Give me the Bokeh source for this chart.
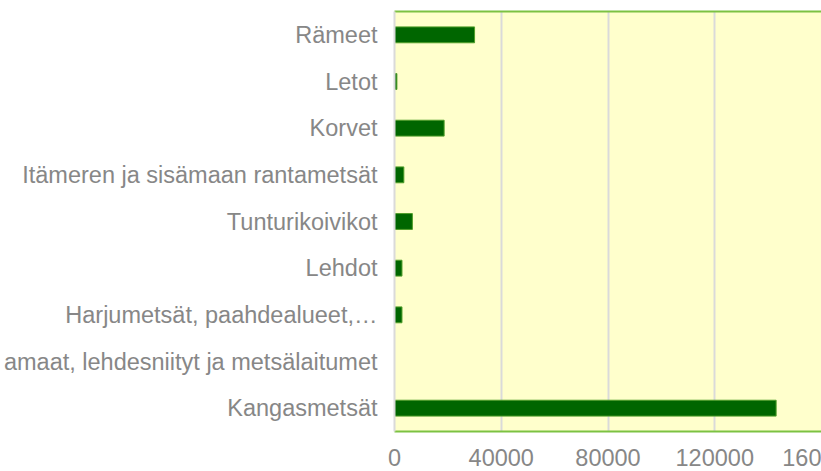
from bokeh.plotting import figure
from bokeh.models import (FactorRange, Range1d, FixedTicker, NumeralTickFormatter,
                          LinearAxis, ColumnDataSource)
from bokeh.embed import file_html
from bokeh.resources import INLINE

# Data (top to bottom as shown)
categories = [
    "Rämeet",
    "Letot",
    "Korvet",
    "Itämeren ja sisämaan rantametsät",
    "Tunturikoivikot",
    "Lehdot",
    "Harjumetsät, paahdealueet,…",
    "amaat, lehdesniityt ja metsälaitumet",
    "Kangasmetsät",
]
values = [30000, 900, 18600, 3500, 6700, 2800, 2800, 0, 143000]
x_ticks = [0, 40000, 80000, 120000, 160000]
x_tick_labels = {160000: "160"}  # right-most label is cut at the window edge

FONT = "Liberation Sans"
FS = "23.5px"
TEXT_GRAY = "#878787"
BAR_GREEN = "#006600"
BAR_EDGE = "#4f9e2a"
BORDER_GREEN = "#7cc242"
GRID_GRAY = "#dadada"

source = ColumnDataSource(dict(cat=categories, val=values))

p = figure(width=821, height=471,
           y_range=FactorRange(factors=categories[::-1]),
           x_range=Range1d(0, 160000),
           output_backend="svg", toolbar_location=None,
           min_border_left=0, min_border_right=0,
           min_border_top=11, min_border_bottom=40)

p.hbar(y="cat", right="val", left=0, height=0.34, source=source,
       fill_color=BAR_GREEN, line_color=BAR_EDGE, line_width=1)

p.background_fill_color = "#ffffcc"
p.border_fill_color = "white"
p.outline_line_color = None

# grid
p.ygrid.grid_line_color = None
p.xgrid.ticker = FixedTicker(ticks=x_ticks)
p.xgrid.grid_line_color = GRID_GRAY
p.xgrid.grid_line_width = 2

# bottom axis
xa = p.xaxis[0]
xa.ticker = FixedTicker(ticks=x_ticks)
xa.formatter = NumeralTickFormatter(format="0")
xa.major_label_overrides = x_tick_labels
xa.axis_line_color = BORDER_GREEN
xa.axis_line_width = 2
xa.major_tick_line_color = None
xa.minor_tick_line_color = None
xa.major_tick_out = 0
xa.major_tick_in = 0
xa.major_label_standoff = 17
xa.major_label_text_font = FONT
xa.major_label_text_font_size = FS
xa.major_label_text_color = TEXT_GRAY

# left axis
ya = p.yaxis[0]
ya.axis_line_color = GRID_GRAY
ya.axis_line_width = 2
ya.major_tick_line_color = None
ya.minor_tick_line_color = None
ya.major_tick_out = 0
ya.major_tick_in = 0
ya.major_label_standoff = 17
ya.major_label_text_font = FONT
ya.major_label_text_font_size = FS
ya.major_label_text_color = TEXT_GRAY

# top border as an empty axis
top = LinearAxis(ticker=FixedTicker(ticks=[]), axis_line_color=BORDER_GREEN,
                 axis_line_width=2, major_tick_out=0, major_tick_in=0,
                 minor_tick_out=0, minor_tick_in=0, major_label_standoff=0,
                 major_tick_line_color=None, minor_tick_line_color=None)
p.add_layout(top, "above")

open("out.html", "w").write(file_html(p, INLINE))
